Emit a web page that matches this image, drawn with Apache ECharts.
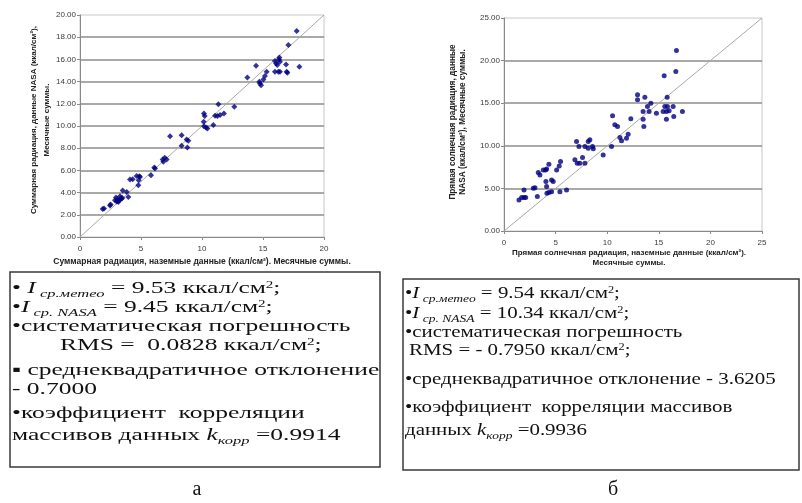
<!DOCTYPE html>
<html><head><meta charset="utf-8">
<script src="https://cdn.jsdelivr.net/npm/echarts@6/dist/echarts.min.js"></script>
<style>html,body{margin:0;padding:0;background:#fff}#c{width:802px;height:503px}</style>
</head><body><div id="c"></div>
<script>
// Chart (а): total radiation, ground data (x) vs NASA data (y), monthly sums
const leftGround = [1.86,1.97,2.46,2.51,2.87,2.95,3.06,3.14,3.22,3.33,3.28,3.00,3.10,3.50,3.47,3.40,3.83,3.96,4.10,4.32,4.64,4.86,4.92,4.81,4.78,5.82,6.09,6.15,6.78,6.83,6.94,7.10,7.38,8.33,8.33,8.74,8.88,8.80,10.16,10.22,10.14,10.16,10.33,10.44,10.93,11.07,11.26,11.34,11.48,11.80,12.65,13.72,14.43,14.70,14.75,14.84,15.03,15.16,15.30,15.98,16.07,16.17,16.31,16.34,16.39,15.98,16.26,16.39,16.89,16.94,17.00,17.08,17.76,17.98];
const leftNasa   = [2.53,2.56,2.83,2.92,3.31,3.55,3.37,3.16,3.31,3.46,3.67,3.20,3.25,4.20,3.52,3.45,4.06,3.61,5.17,5.20,5.50,5.47,5.41,5.11,4.66,5.56,6.26,6.17,6.98,6.77,7.13,6.98,9.08,9.17,8.21,8.78,8.66,8.06,11.13,10.89,10.38,9.98,9.86,9.77,10.08,10.92,10.89,11.97,10.98,11.13,11.73,14.38,15.43,13.98,13.83,13.68,14.20,14.50,14.89,15.85,15.64,15.49,16.00,16.18,15.79,14.89,14.89,14.89,15.55,14.89,14.80,17.29,18.56,15.34];
// Chart (б): direct solar radiation, ground data (x) vs NASA data (y)
const rightGround = [1.45,1.71,1.94,2.10,1.94,2.84,3.00,3.23,3.32,3.48,3.81,4.03,4.13,4.35,4.06,4.13,4.16,4.35,4.61,4.77,4.61,5.10,5.35,5.48,5.42,6.06,6.87,7.03,7.10,7.26,7.35,7.61,7.84,7.84,8.16,8.32,8.16,8.58,8.65,9.61,10.42,10.52,10.74,11.00,11.23,11.39,11.87,12.03,12.29,12.94,12.94,13.48,13.48,13.55,13.65,13.90,14.06,14.23,14.77,15.42,15.52,15.58,15.74,15.81,15.74,15.84,16.00,16.45,16.39,16.65,16.71,17.29];
const rightNasa   = [3.64,3.92,3.92,3.92,4.82,5.02,5.09,4.04,6.86,6.58,7.17,7.17,7.29,7.84,5.80,5.21,4.43,4.51,6.00,5.80,4.62,7.17,7.64,8.15,4.62,4.82,8.35,10.50,7.95,9.91,7.95,8.62,7.95,9.91,10.50,10.70,9.72,9.91,9.64,8.93,9.91,13.52,12.46,12.26,10.97,10.58,10.89,11.36,13.17,15.99,15.40,14.03,13.13,12.26,15.71,14.60,14.03,15.00,13.83,14.03,18.22,14.60,14.03,15.71,13.13,14.60,14.10,13.44,14.60,18.73,21.20,14.03];
// 1:1 reference lines
const leftDiag = [0, 20];
const rightDiag = [0, 25];
// Tick labels
const leftXTicks = [0, 5, 10, 15, 20];
const leftYTicks = [0, 2, 4, 6, 8, 10, 12, 14, 16, 18, 20];
const rightXTicks = [0, 5, 10, 15, 20, 25];
const rightYTicks = [0, 5, 10, 15, 20, 25];

const pairs = (a, b) => a.map((v, i) => [v, b[i]]);
const LBL = {color:'#3a3a3a', fontSize:8, fontFamily:'Liberation Sans'};
function xAxis(gi, ticks){
  return {type:'value', gridIndex:gi, min:ticks[0], max:ticks[ticks.length-1], interval:ticks[1]-ticks[0],
    axisLine:{show:true, lineStyle:{color:'#8a8a8a', width:1}},
    axisTick:{show:true, length:3, lineStyle:{color:'#8a8a8a'}},
    axisLabel:Object.assign({margin:8}, LBL), splitLine:{show:false}};
}
function yAxis(gi, ticks){
  return {type:'value', gridIndex:gi, min:ticks[0], max:ticks[ticks.length-1], interval:ticks[1]-ticks[0],
    axisLine:{show:true, lineStyle:{color:'#8a8a8a', width:1}},
    axisTick:{show:true, length:3, lineStyle:{color:'#8a8a8a'}},
    axisLabel:Object.assign({margin:4, formatter:v=>v.toFixed(2)}, LBL),
    splitLine:{show:true, showMinLine:false, showMaxLine:false, lineStyle:{color:'#8c8c8c', width:1.6}}};
}

const FS = 17;
const serifMain = {fontFamily:'Liberation Serif', fontSize:FS, fill:'#111', lineHeight:FS, verticalAlign:'top'};
const rich = {
  n: serifMain,
  i: Object.assign({}, serifMain, {fontStyle:'italic'}),
  s: {fontFamily:'Liberation Serif', fontStyle:'italic', fontSize:11, fill:'#111', lineHeight:11, verticalAlign:'top', padding:[8,0,0,0]},
  p: {fontFamily:'Liberation Serif', fontSize:10, fill:'#111', lineHeight:10, verticalAlign:'top'}
};
function line(x, y, text, sx){
  return {type:'text', x:x, y:y, scaleX:sx, z:10,
    style:{text:text, rich:rich, fontFamily:'Liberation Serif', fontSize:FS, fill:'#111', verticalAlign:'middle', align:'left'}};
}
const SL = 1.5, SR = 1.23;
const leftLines = [
  [12, 289, '{n|• }{i|I}{s| ср.метео}{n| = 9.53 ккал/см}{p|2}{n|;}'],
  [12, 308, '{n|•}{i|I}{s| ср. NASA}{n| = 9.45 ккал/см}{p|2}{n|;}'],
  [12, 327, '{n|•систематическая погрешность}'],
  [60, 346, '{n|RMS =  0.0828 ккал/см}{p|2}{n|;}'],
  [12, 371, '{n|▪ среднеквадратичное отклонение}'],
  [12, 390, '{n|- 0.7000}'],
  [12, 414, '{n|•коэффициент  корреляции}'],
  [12, 436, '{n|массивов данных }{i|k}{s|корр}{n| =0.9914}']
];
const rightLines = [
  [405, 294, '{n|•}{i|I}{s| ср.метео}{n| = 9.54 ккал/см}{p|2}{n|;}'],
  [405, 314, '{n|•}{i|I}{s| ср. NASA}{n| = 10.34 ккал/см}{p|2}{n|;}'],
  [405, 333, '{n|•систематическая погрешность}'],
  [409, 351, '{n|RMS = - 0.7950 ккал/см}{p|2}{n|;}'],
  [405, 380, '{n|•среднеквадратичное отклонение - 3.6205}'],
  [405, 408, '{n|•коэффициент  корреляции массивов}'],
  [405, 431, '{n|данных }{i|k}{s|корр}{n| =0.9936}']
];
const titleFont = {fontFamily:'Liberation Sans', fontWeight:'bold', fill:'#222', align:'center', verticalAlign:'middle'};
const graphics = [
  {type:'rect', shape:{x:10, y:272, width:370, height:195}, style:{fill:'none', stroke:'#3a3a3a', lineWidth:1.5}},
  {type:'rect', shape:{x:403, y:279, width:396, height:191}, style:{fill:'none', stroke:'#3a3a3a', lineWidth:1.5}},
  {type:'text', x:40, y:120, rotation:Math.PI/2, style:Object.assign({text:'Суммарная радиация, данные NASA (ккал/см²),\nМесячные суммы.', fontSize:8, lineHeight:13}, titleFont)},
  {type:'text', x:202, y:262, style:Object.assign({text:'Суммарная радиация, наземные данные (ккал/см²). Месячные суммы.', fontSize:8.5}, titleFont)},
  {type:'text', x:458, y:122, rotation:Math.PI/2, style:Object.assign({text:'Прямая солнечная радиация, данные\nNASA (ккал/см²), Месячные суммы.', fontSize:8.3, lineHeight:10}, titleFont)},
  {type:'text', x:629, y:258, style:Object.assign({text:'Прямая солнечная радиация, наземные данные (ккал/см²).\nМесячные суммы.', fontSize:8, lineHeight:10}, titleFont)},
  {type:'text', x:197, y:490, style:{text:'а', fontFamily:'Liberation Serif', fontSize:20, fill:'#111', align:'center', verticalAlign:'middle'}},
  {type:'text', x:613, y:490, style:{text:'б', fontFamily:'Liberation Serif', fontSize:20, fill:'#111', align:'center', verticalAlign:'middle'}}
];
leftLines.forEach(l => graphics.push(line(l[0], l[1], l[2], SL)));
rightLines.forEach(l => graphics.push(line(l[0], l[1], l[2], SR)));

const chart = echarts.init(document.getElementById('c'), null, {renderer:'canvas'});
chart.setOption({
  animation:false,
  backgroundColor:'#ffffff',
  grid:[
    {left:80, top:15, width:244, height:222, show:true, borderColor:'#c8c8c8', borderWidth:1, backgroundColor:'transparent'},
    {left:504, top:18, width:258, height:213, show:true, borderColor:'#c8c8c8', borderWidth:1, backgroundColor:'transparent'}
  ],
  xAxis:[xAxis(0, leftXTicks), xAxis(1, rightXTicks)],
  yAxis:[yAxis(0, leftYTicks), yAxis(1, rightYTicks)],
  series:[
    {type:'line', xAxisIndex:0, yAxisIndex:0, data:pairs(leftDiag, leftDiag), symbol:'none', lineStyle:{color:'#a8a8a8', width:1}, z:1},
    {type:'scatter', xAxisIndex:0, yAxisIndex:0, data:pairs(leftGround, leftNasa), symbol:'diamond', symbolSize:6, itemStyle:{color:'#000080'}, z:3},
    {type:'line', xAxisIndex:1, yAxisIndex:1, data:pairs(rightDiag, rightDiag), symbol:'none', lineStyle:{color:'#a8a8a8', width:1}, z:1},
    {type:'scatter', xAxisIndex:1, yAxisIndex:1, data:pairs(rightGround, rightNasa), symbol:'circle', symbolSize:5, itemStyle:{color:'#000080'}, z:3}
  ],
  graphic:graphics
});
</script></body></html>
